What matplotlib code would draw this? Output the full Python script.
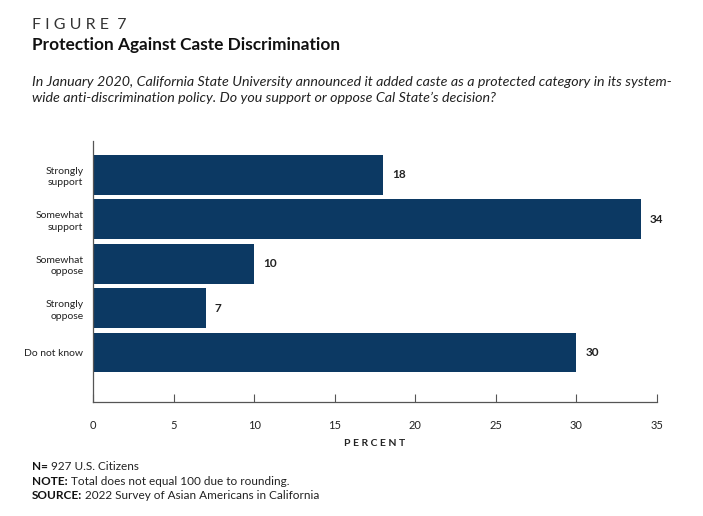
import matplotlib.pyplot as plt

categories = ['Strongly\nsupport', 'Somewhat\nsupport', 'Somewhat\noppose', 'Strongly\noppose', 'Do not know']
values = [18, 34, 10, 7, 30]
xticks = [0, 5, 10, 15, 20, 25, 30, 35]

bar_color = '#0c3963'
plt.rcParams['font.family'] = ['Lato', 'DejaVu Sans']

fig = plt.figure(figsize=(7.03, 5.16), dpi=100)
ax = fig.add_axes([93 / 703, 114 / 516, 564 / 703, 261 / 516])

pos = list(range(len(categories)))
ax.barh(pos, values, height=0.9, color=bar_color)
ax.set_ylim(5.115, -0.766)
ax.set_xlim(0, 35)

for p, v in zip(pos, values):
    ax.text(v + 0.55, p, str(v), va='center', ha='left', fontsize=8.5, fontweight='bold', color='#222222')

ax.set_yticks(pos)
ax.set_yticklabels(categories, fontsize=7.5, color='#222222', linespacing=1.35)
ax.set_xticks(xticks)
ax.set_xticklabels([str(t) for t in xticks], fontsize=8, color='#222222')
ax.tick_params(axis='y', length=0, pad=7)
ax.tick_params(axis='x', direction='in', length=6, width=0.8, color='#555555', pad=13)

for s in ['top', 'right']:
    ax.spines[s].set_visible(False)
for s in ['left', 'bottom']:
    ax.spines[s].set_color('#555555')
    ax.spines[s].set_linewidth(0.9)

fig.text(375 / 703, 1 - 443 / 516, 'P E R C E N T', ha='center', va='center', fontsize=7.5,
         fontweight='bold', color='#222222')

fig.text(32 / 703, 1 - 25 / 516, 'F I G U R E  7', ha='left', va='center', fontsize=11.5,
         color='#333333')
fig.text(32 / 703, 1 - 45 / 516, 'Protection Against Caste Discrimination', ha='left', va='center',
         fontsize=12.4, fontweight='bold', color='#111111')
fig.text(32 / 703, 1 - 90 / 516,
         'In January 2020, California State University announced it added caste as a protected category in its system-\n'
         'wide anti-discrimination policy. Do you support or oppose Cal State\u2019s decision?',
         ha='left', va='center', fontsize=10.3, style='italic', color='#222222', linespacing=1.4)

notes = [('N=', ' 927 U.S. Citizens'),
         ('NOTE:', ' Total does not equal 100 due to rounding.'),
         ('SOURCE:', ' 2022 Survey of Asian Americans in California')]
note_y = [470, 485, 499]
for (lead, rest), y in zip(notes, note_y):
    t = fig.text(32 / 703, 1 - y / 516, lead, ha='left', va='baseline', fontsize=8.5, fontweight='bold',
                 color='#111111')
    fig.canvas.draw()
    bb = t.get_window_extent()
    fig.text(bb.x1 / 703, 1 - y / 516, rest, ha='left', va='baseline', fontsize=8.5, color='#222222')

fig.savefig('out.png', dpi=100)
